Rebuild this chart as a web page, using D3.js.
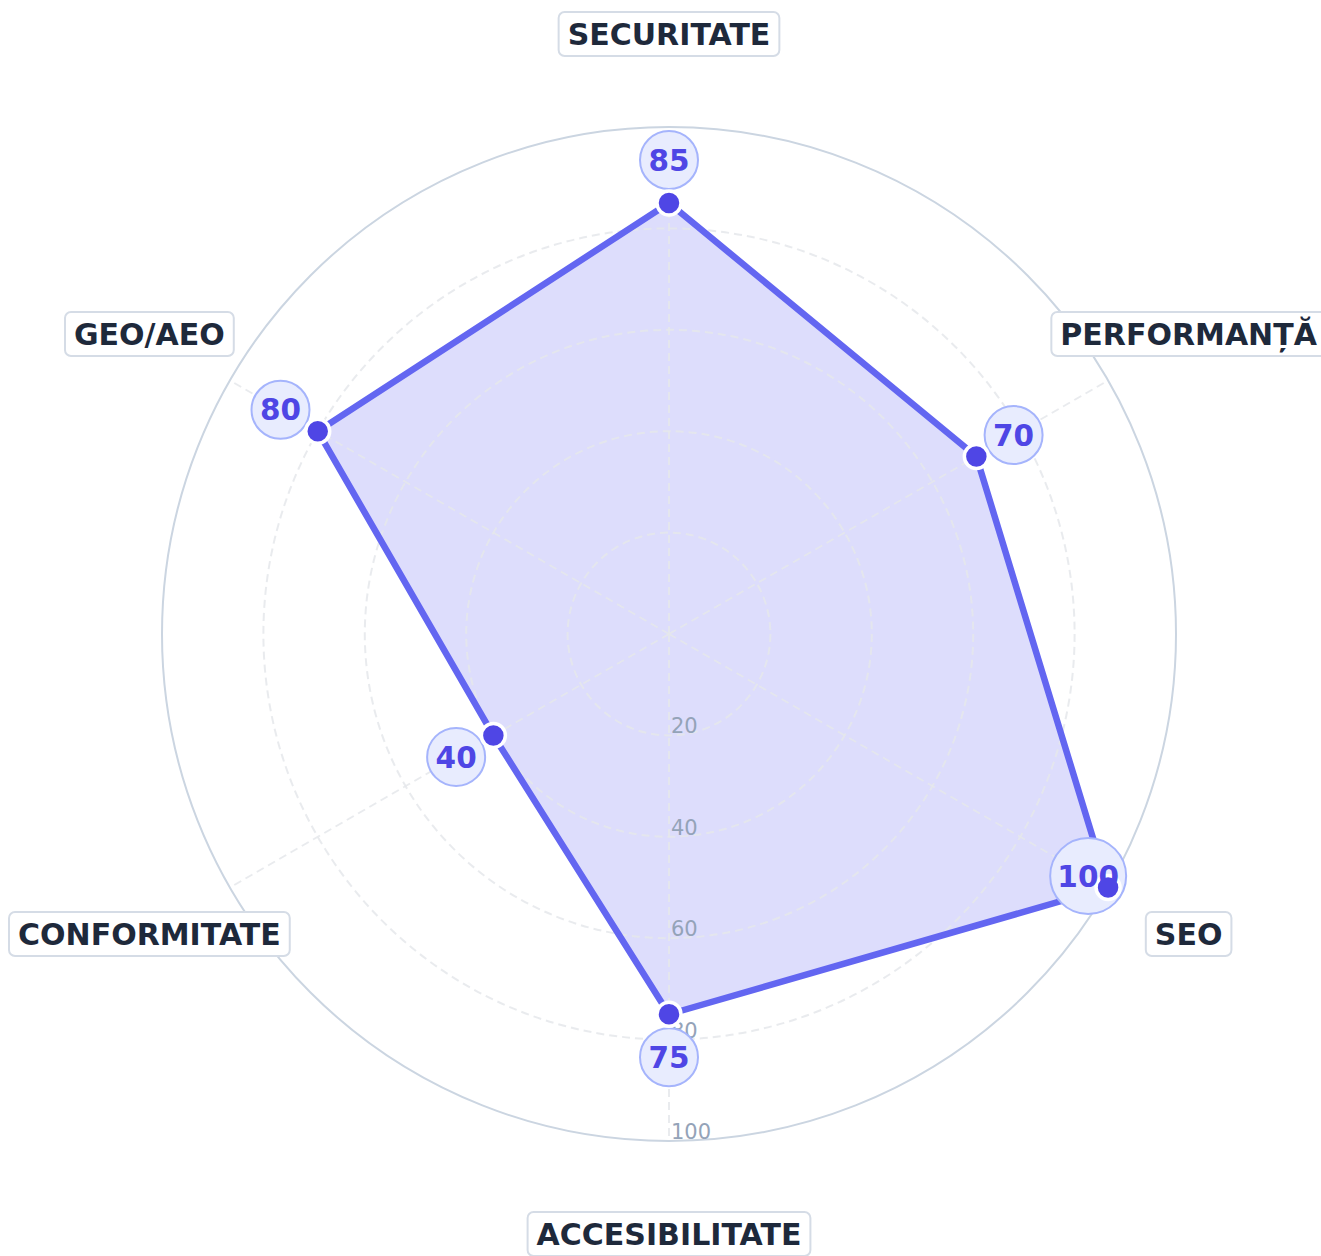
<!DOCTYPE html>
<html>
<head>
<meta charset="utf-8">
<script src="https://cdn.jsdelivr.net/npm/d3@7"></script>
<style>
  body { margin: 0; background: #fff; }
  svg { display: block; font-family: "DejaVu Sans", sans-serif; }
</style>
</head>
<body>
<div id="chart"></div>
<script>
var categories = ["SECURITATE", "PERFORMANȚĂ", "SEO", "ACCESIBILITATE", "CONFORMITATE", "GEO/AEO"];
var values = [85, 70, 100, 75, 40, 80];
var ticks = [20, 40, 60, 80, 100];

var width = 1321, height = 1256;
var cx = 669, cy = 634;
var R = 507;

var svg = d3.select("#chart").append("svg")
  .attr("width", width)
  .attr("height", height);

var g = svg.append("g").attr("transform", "translate(" + cx + "," + cy + ")");

var r = d3.scaleLinear().domain([0, 100]).range([0, R]);
var angle = d3.scaleLinear().domain([0, categories.length]).range([-Math.PI / 2, Math.PI * 1.5]);

function pt(i, rad) {
  var a = angle(i);
  return [Math.cos(a) * rad, Math.sin(a) * rad];
}

function badgePos(d, i) {
  var p = pt(i, Math.min(r(d) + 43, R - 23));
  return "translate(" + p[0] + "," + p[1] + ")";
}

// polygon fill (under the grid)
var line = d3.lineRadial()
  .angle((d, i) => angle(i) + Math.PI / 2)
  .radius(d => r(d))
  .curve(d3.curveLinearClosed);

g.append("path")
  .datum(values)
  .attr("d", line)
  .attr("fill", "rgba(99,102,241,0.22)")
  .attr("stroke", "none");

// grid circles
g.selectAll(".grid")
  .data(ticks)
  .enter()
  .append("circle")
  .attr("r", d => r(d))
  .attr("fill", "none")
  .attr("stroke", d => d == 100 ? "#cbd5e1" : "#e5e7eb")
  .attr("stroke-opacity", d => d == 100 ? 1 : 0.85)
  .attr("stroke-width", 2)
  .attr("stroke-dasharray", d => d == 100 ? null : "8,5");

// axis lines
g.selectAll(".axis")
  .data(categories)
  .enter()
  .append("line")
  .attr("x1", 0).attr("y1", 0)
  .attr("x2", (d, i) => pt(i, r(100))[0])
  .attr("y2", (d, i) => pt(i, r(100))[1])
  .attr("stroke", "#e5e7eb")
  .attr("stroke-opacity", 0.85)
  .attr("stroke-width", 2)
  .attr("stroke-dasharray", "8,5");

// tick labels
g.selectAll(".tick")
  .data(ticks)
  .enter()
  .append("text")
  .attr("x", 2)
  .attr("y", d => r(d) - 2)
  .style("font-size", "21px")
  .style("fill", "#94a3b8")
  .text(d => d);

// polygon outline
g.append("path")
  .datum(values)
  .attr("d", line)
  .attr("fill", "none")
  .attr("stroke", "#6366f1")
  .attr("stroke-width", 6.5)
  .attr("stroke-linejoin", "round");

// value badges
g.selectAll(".badge")
  .data(values)
  .enter()
  .append("circle")
  .attr("transform", badgePos)
  .attr("r", d => String(d).length > 2 ? 38 : 29)
  .attr("fill", "#e8ecfe")
  .attr("stroke", "#a5b4fc")
  .attr("stroke-width", 2);

// points
g.selectAll(".dot")
  .data(values)
  .enter()
  .append("circle")
  .attr("cx", (d, i) => pt(i, r(d))[0])
  .attr("cy", (d, i) => pt(i, r(d))[1])
  .attr("r", 12)
  .attr("fill", "#4f46e5")
  .attr("stroke", "#fff")
  .attr("stroke-width", 3.5);

// badge text
g.selectAll(".badgeText")
  .data(values)
  .enter()
  .append("text")
  .attr("transform", badgePos)
  .attr("text-anchor", "middle")
  .attr("dy", "0.36em")
  .style("font-size", "29.5px")
  .style("font-weight", "bold")
  .style("fill", "#4f46e5")
  .text(d => d);

// axis labels
var labels = g.selectAll(".label")
  .data(categories)
  .enter()
  .append("g")
  .attr("transform", function(d, i) {
    var p = pt(i, 600);
    return "translate(" + p[0] + "," + p[1] + ")";
  });

labels.append("text")
  .attr("text-anchor", "middle")
  .attr("dy", "0.36em")
  .style("font-size", "30px")
  .style("font-weight", "bold")
  .style("fill", "#1e293b")
  .text(d => d);

labels.each(function() {
  var node = d3.select(this);
  var bb = node.select("text").node().getBBox();
  node.insert("rect", "text")
    .attr("x", bb.x - 9)
    .attr("y", -22)
    .attr("width", bb.width + 18)
    .attr("height", 44)
    .attr("rx", 6)
    .attr("fill", "#fff")
    .attr("stroke", "#d5dce6")
    .attr("stroke-width", 2);
});
</script>
</body>
</html>
